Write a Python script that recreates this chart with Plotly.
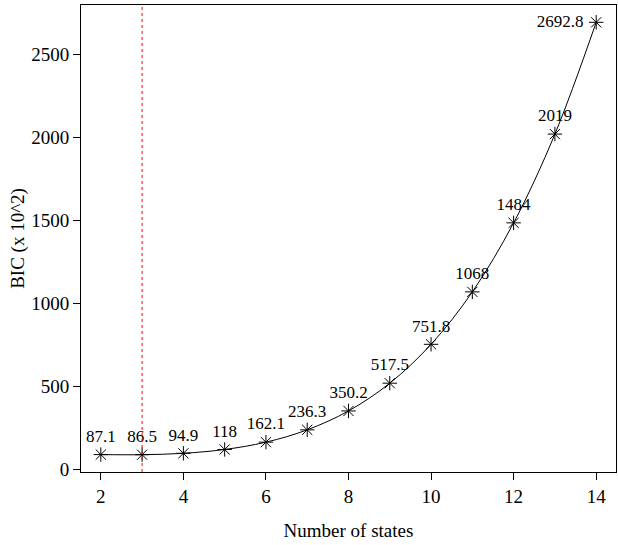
import plotly.graph_objects as go

states = [2, 3, 4, 5, 6, 7, 8, 9, 10, 11, 12, 13, 14]
bic = [87.1, 86.5, 94.9, 118, 162.1, 236.3, 350.2, 517.5, 751.8, 1068, 1484, 2019, 2692.8]
labels = ["87.1", "86.5", "94.9", "118", "162.1", "236.3", "350.2", "517.5",
          "751.8", "1068", "1484", "2019", "2692.8\u00a0"]
label_pos = ["top center"] * 12 + ["middle left"]
best_k = 3
x_ticks = [2, 4, 6, 8, 10, 12, 14]
y_ticks = [0, 500, 1000, 1500, 2000, 2500]

font = "Liberation Serif"

# R-style 4% axis extension
xmin, xmax = min(states), max(states)
ymin, ymax = min(bic), max(bic)
xr = [xmin - 0.04 * (xmax - xmin), xmax + 0.04 * (xmax - xmin)]
yr = [ymin - 0.04 * (ymax - ymin), ymax + 0.04 * (ymax - ymin)]

fig = go.Figure()
fig.add_trace(go.Scatter(
    x=states, y=bic, mode="lines+markers+text",
    line=dict(color="black", width=1, shape="spline", smoothing=1),
    marker=dict(symbol="asterisk-open", size=12, color="black",
                line=dict(color="black", width=1)),
    text=labels, textposition=label_pos,
    textfont=dict(family=font, size=17, color="black"),
    cliponaxis=False, showlegend=False, hoverinfo="x+y",
))
fig.add_shape(type="line", xref="x", yref="paper", x0=best_k, x1=best_k, y0=0, y1=1,
              line=dict(color="red", width=1, dash="3px,3px"))

axis_common = dict(showgrid=False, zeroline=False, showline=True, linecolor="black",
                   linewidth=1, mirror=True, ticks="outside", ticklen=7,
                   tickcolor="black", tickfont=dict(family=font, size=19, color="black"))
fig.update_xaxes(range=xr, tickvals=x_ticks, **axis_common,
                 title=dict(text="Number of states", standoff=17,
                            font=dict(family=font, size=19, color="black")))
fig.update_yaxes(range=yr, tickvals=y_ticks, **axis_common,
                 title=dict(text="BIC (x 10^2)", standoff=1,
                            font=dict(family=font, size=19, color="black")))
fig.update_layout(width=618, height=545, margin=dict(l=81, r=2, t=5, b=73),
                  plot_bgcolor="white", paper_bgcolor="white")
fig.write_html("out.html", config={"displayModeBar": False},
               post_script="document.body.style.margin='0';")
